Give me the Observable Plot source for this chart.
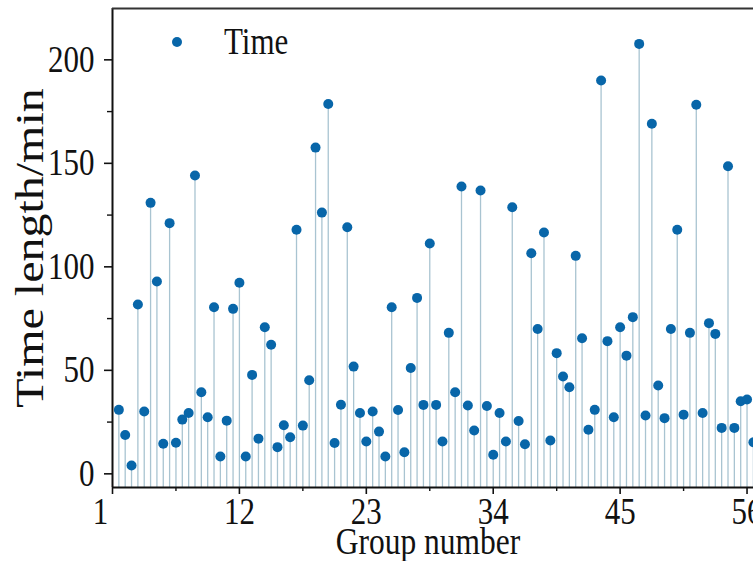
<!DOCTYPE html>
<html>
<head>
<meta charset="utf-8">
<script src="https://cdn.jsdelivr.net/npm/d3@7"></script>
<script src="https://cdn.jsdelivr.net/npm/@observablehq/plot@0.6"></script>
<style>
  html, body { margin: 0; padding: 0; background: #fff; }
  #wrap { position: relative; width: 753px; height: 561px; overflow: hidden; }
  #legend { position: absolute; left: 0; top: 0; font-family: "Liberation Serif", "Times New Roman", serif; font-size: 31px; color: #111; }
  #legend .dot { position: absolute; left: 172px; top: 37px; width: 10px; height: 10px; border-radius: 50%; background: #0866a9; }
  #legend .lab { position: absolute; left: 224px; top: 24px; line-height: 36px; white-space: nowrap; display: inline-block; transform: scaleY(1.2); transform-origin: 50% 50%; }
</style>
</head>
<body>
<div id="wrap">
  <div id="chart"></div>
  <div id="legend"><span class="dot"></span><span class="lab">Time</span></div>
</div>
<script>
// Time length (min) for each record, in order
const values = [
  30.9, 18.8, 4.0, 81.8, 30.1, 130.9, 92.9, 14.5, 121.1, 15.0,
  26.2, 29.4, 144.1, 39.4, 27.3, 80.5, 8.4, 25.7, 79.7, 92.3,
  8.4, 47.8, 17.0, 70.8, 62.4, 12.9, 23.5, 17.7, 117.9, 23.3,
  45.2, 157.6, 126.2, 178.7, 14.9, 33.4, 119.1, 51.8, 29.4, 15.6,
  30.1, 20.4, 8.4, 80.5, 30.8, 10.4, 51.1, 85.0, 33.3, 111.3,
  33.3, 15.6, 68.1, 39.4, 138.8, 33.0, 20.9, 136.9, 32.8, 9.2,
  29.4, 15.6, 128.8, 25.5, 14.3, 106.6, 70.0, 116.6, 16.1, 58.3,
  47.0, 41.8, 105.3, 65.5, 21.3, 30.9, 190.0, 64.1, 27.3, 70.8,
  57.1, 75.7, 207.7, 28.2, 169.1, 42.7, 26.9, 70.0, 117.9, 28.6,
  68.1, 178.3, 29.4, 72.8, 67.6, 22.2, 148.6, 22.2, 35.1, 35.9,
  15.3
];
// group-number step between consecutive records (20 records per 11 groups)
const groupStep = 0.55;
const xTicks = [1, 12, 23, 34, 45, 56];
const xMinorTicks = [6.5, 17.5, 28.5, 39.5, 50.5];
const yTicks = [0, 50, 100, 150, 200];
const yMinorTicks = [25, 75, 125, 175];
const seriesName = "Time";
const xLabel = "Group number";
const yLabel = "Time length/min";

const data = values.map((v, i) => ({ g: 1 + groupStep * (i + 1), v }));

const xMin = 1, xMax = 1 + groupStep * values.length + 0.01;
const yMin = -6.6, yMax = 224.8;

const chart = Plot.plot({
  width: 753,
  height: 561,
  marginLeft: 112,
  marginRight: 0,
  marginTop: 8,
  marginBottom: 74,
  x: { domain: [xMin, xMax] },
  y: { domain: [yMin, yMax] },
  style: { fontFamily: "'Liberation Serif', 'Times New Roman', serif", fontSize: "31px", color: "#111", background: "#fff", overflow: "hidden" },
  marks: [
    Plot.ruleX(data, { x: "g", y1: yMin, y2: "v", stroke: "#a9c4d1", strokeWidth: 1.3 }),
    Plot.dot(data, { x: "g", y: "v", r: 5, fill: "#0866a9", stroke: "none" }),
    // frame lines
    Plot.ruleX([xMin], { stroke: "#111", strokeWidth: 2 }),
    Plot.ruleY([yMin], { stroke: "#111", strokeWidth: 2 }),
    Plot.ruleY([yMax], { stroke: "#333", strokeWidth: 2 }),
    // y axis
    Plot.axisY({ ticks: yTicks, tickSize: 8, tickPadding: 10, label: null, fontSize: 31, strokeWidth: 1.6, tickFormat: d => String(d) }),
    Plot.axisY({ ticks: yMinorTicks, tickSize: 5, label: null, strokeWidth: 1.4, tickFormat: () => "" }),
    // x axis
    Plot.axisX({ ticks: xTicks, tickSize: 7, tickPadding: 5, label: null, fontSize: 31, strokeWidth: 1.6, tickFormat: d => String(d) }),
    Plot.axisX({ ticks: xMinorTicks, tickSize: 4, label: null, strokeWidth: 1.4, tickFormat: () => "" }),
    // axis titles
    Plot.text([yLabel], { frameAnchor: "left", textAnchor: "middle", text: d => d, rotate: -90, dx: -82, fontSize: 40 }),
    Plot.text([xLabel], { frameAnchor: "bottom", textAnchor: "middle", text: d => d, dy: 54, dx: -5, fontSize: 31.5, lineAnchor: "middle" })
  ]
});
document.getElementById("chart").appendChild(chart);
document.querySelector("#legend .lab").textContent = seriesName;

// The reference typography is taller than it is wide (Times-like, vertically stretched)
chart.querySelectorAll("text").forEach(t => {
  const txt = t.textContent;
  if (!txt) return;
  const b = t.getBBox();
  const cx = b.x + b.width / 2, cy = b.y + b.height / 2;
  const s = txt === yLabel ? "scale(1.2,1)" : "scale(1,1.2)";
  // the first x tick label sits left of its tick in the reference
  const group = t.parentNode;
  const aria = (group && group.getAttribute && group.getAttribute("aria-label")) || "";
  const shift = (txt === String(xTicks[0]) && aria.indexOf("x-axis") === 0) ? "translate(-12,0) " : "";
  const prev = t.getAttribute("transform") || "";
  t.setAttribute("transform", `${prev} ${shift}translate(${cx},${cy}) ${s} translate(${-cx},${-cy})`.trim());
});
</script>
</body>
</html>
